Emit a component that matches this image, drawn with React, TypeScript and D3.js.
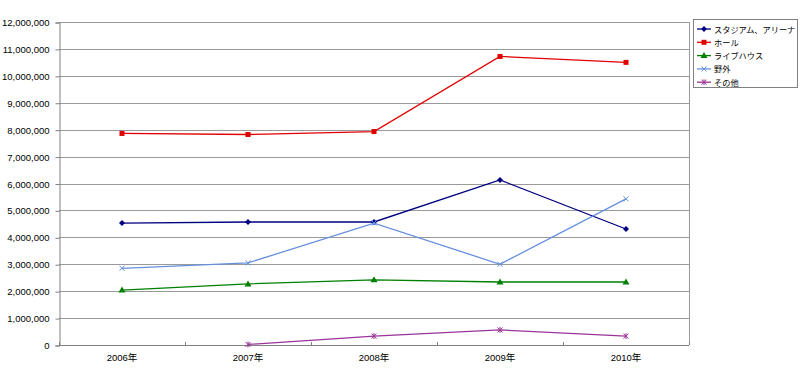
import React, { useEffect, useRef } from 'react'
import * as d3 from 'd3'

const years = ['2006年', '2007年', '2008年', '2009年', '2010年']
const seriesNames = ['スタジアム、アリーナ', 'ホール', 'ライブハウス', '野外', 'その他']
const stadium = [4530000, 4570000, 4570000, 6130000, 4310000]
const hall = [7860000, 7820000, 7930000, 10720000, 10500000]
const liveHouse = [2040000, 2270000, 2420000, 2340000, 2340000]
const outdoor = [2850000, 3050000, 4530000, 3000000, 5430000]
const other = [null, 20000, 330000, 560000, 330000]
const yTicks = [0, 1000000, 2000000, 3000000, 4000000, 5000000, 6000000, 7000000, 8000000, 9000000, 10000000, 11000000, 12000000]

const colors = ['#000080', '#e00000', '#008000', '#6690dd', '#993399']
const shapes = ['diamond', 'square', 'triangle', 'cross', 'star']

export default function App() {
  const ref = useRef<SVGSVGElement>(null)

  useEffect(() => {
    const svg = d3.select(ref.current)
    svg.selectAll('*').remove()
    const M = { left: 59, right: 689, top: 22, bottom: 345 }

    const x = d3.scaleBand().domain(years).range([M.left, M.right])
    const y = d3.scaleLinear().domain([0, 12000000]).range([M.bottom, M.top])
    const font = 'Arial, "Liberation Sans", "Noto Sans CJK JP", sans-serif'
    const jpFont = '"Noto Sans CJK JP", sans-serif'

    // grid
    svg.append('g').selectAll('line').data(yTicks).join('line')
      .attr('x1', M.left).attr('x2', M.right)
      .attr('y1', d => Math.round(y(d)) + 0.5).attr('y2', d => Math.round(y(d)) + 0.5)
      .attr('stroke', '#9a9a9a').attr('stroke-width', 1)

    // right border
    svg.append('line').attr('x1', M.right + 0.5).attr('x2', M.right + 0.5)
      .attr('y1', M.top).attr('y2', M.bottom).attr('stroke', '#9a9a9a')

    // y axis
    const yAxis = d3.axisLeft(y).tickValues(yTicks).tickSize(4).tickFormat(d3.format(','))
    const gy = svg.append('g').attr('transform', `translate(${M.left + 0.5},0.5)`).call(yAxis)
    gy.select('.domain').attr('stroke', '#808080')
    gy.selectAll('.tick line').attr('stroke', '#808080')
    gy.selectAll('text').attr('font-family', font).attr('font-size', 9.5).attr('fill', '#000')
      .attr('dx', -3)

    // x axis
    const bounds = d3.range(years.length + 1).map(i => M.left + i * x.bandwidth())
    svg.append('line').attr('x1', M.left).attr('x2', M.right)
      .attr('y1', M.bottom + 0.5).attr('y2', M.bottom + 0.5).attr('stroke', '#808080')
    svg.append('g').selectAll('line').data(bounds).join('line')
      .attr('x1', d => Math.round(d) + 0.5).attr('x2', d => Math.round(d) + 0.5)
      .attr('y1', M.bottom - 3).attr('y2', M.bottom).attr('stroke', '#808080')
    svg.append('g').selectAll('text').data(years).join('text')
      .attr('x', d => x(d)! + x.bandwidth() / 2).attr('y', M.bottom + 16)
      .attr('text-anchor', 'middle').attr('font-family', font).attr('font-size', 9.5)
      .text(d => d)

    const all = [stadium, hall, liveHouse, outdoor, other]
    const cx = (i: number) => x(years[i])! + x.bandwidth() / 2

    const drawMarker = (g: any, shape: string, px: number, py: number, color: string) => {
      if (shape === 'diamond') {
        g.append('path').attr('d', `M${px},${py - 3}L${px + 3},${py}L${px},${py + 3}L${px - 3},${py}Z`).attr('fill', color)
      } else if (shape === 'square') {
        g.append('rect').attr('x', px - 2.5).attr('y', py - 2.5).attr('width', 5).attr('height', 5).attr('fill', color)
      } else if (shape === 'triangle') {
        g.append('path').attr('d', `M${px},${py - 3.5}L${px + 3.5},${py + 2.5}L${px - 3.5},${py + 2.5}Z`).attr('fill', color)
      } else if (shape === 'cross') {
        g.append('path').attr('d', `M${px - 2.5},${py - 2.5}L${px + 2.5},${py + 2.5}M${px - 2.5},${py + 2.5}L${px + 2.5},${py - 2.5}`)
          .attr('stroke', color).attr('stroke-width', 1)
      } else {
        g.append('path').attr('d', `M${px - 2.5},${py - 2.5}L${px + 2.5},${py + 2.5}M${px - 2.5},${py + 2.5}L${px + 2.5},${py - 2.5}M${px},${py - 3}L${px},${py + 3}`)
          .attr('stroke', color).attr('stroke-width', 1)
      }
    }

    all.forEach((vals, si) => {
      const pts = vals.map((v, i) => ({ v, i })).filter(p => p.v !== null) as { v: number; i: number }[]
      const line = d3.line<{ v: number; i: number }>().x(p => cx(p.i)).y(p => y(p.v))
      const g = svg.append('g')
      g.append('path').datum(pts).attr('d', line).attr('fill', 'none')
        .attr('stroke', colors[si]).attr('stroke-width', 1.3)
      pts.forEach(p => drawMarker(g, shapes[si], cx(p.i), y(p.v), colors[si]))
    })

    // legend
    const lg = svg.append('g')
    lg.append('rect').attr('x', 693.5).attr('y', 19.5).attr('width', 104).attr('height', 68)
      .attr('fill', '#fff').attr('stroke', '#808080')
    seriesNames.forEach((name, i) => {
      const ly = 29 + i * 13.3
      lg.append('line').attr('x1', 697).attr('x2', 711).attr('y1', ly).attr('y2', ly)
        .attr('stroke', colors[i]).attr('stroke-width', 1.3)
      drawMarker(lg, shapes[i], 704, ly, colors[i])
      lg.append('text').attr('x', 714).attr('y', ly + 3.5).attr('font-family', jpFont)
        .attr('font-size', 8.2).text(name)
    })
  }, [])

  return (
    <svg ref={ref} width={800} height={370} style={{ position: 'absolute', left: 0, top: 0, background: '#fff' }} />
  )
}
